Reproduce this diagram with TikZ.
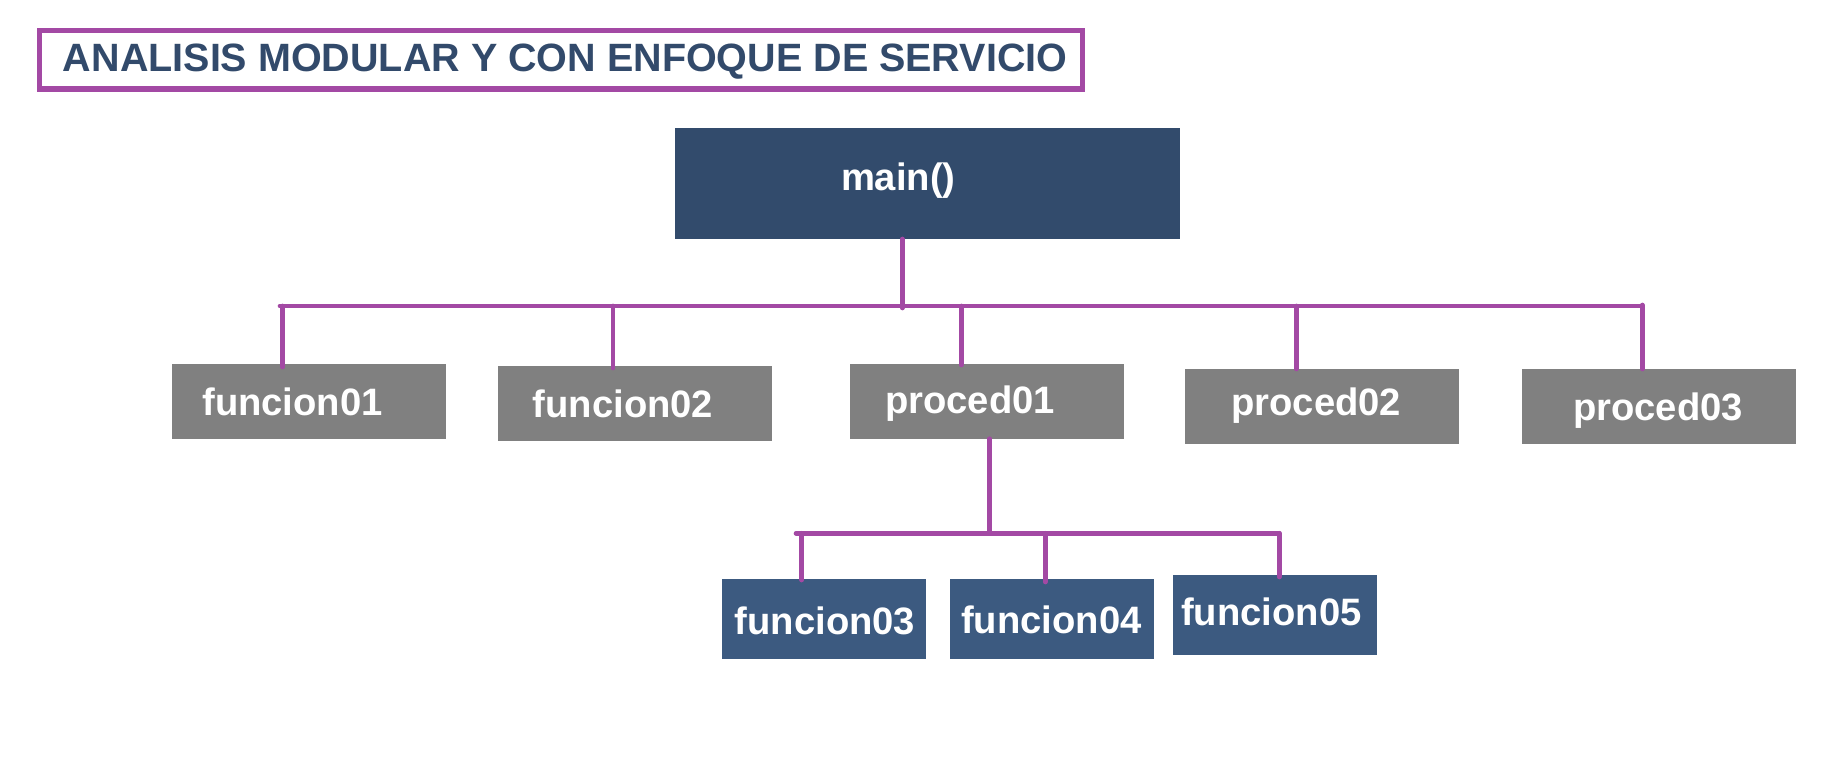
\documentclass[tikz,border=0pt]{standalone}
\usepackage{fontspec}
\setmainfont{Liberation Sans}
\usetikzlibrary{fit,calc}
\definecolor{linkpurple}{RGB}{163,73,164}
\definecolor{mainblue}{RGB}{50,75,108}
\definecolor{subblue}{RGB}{60,90,128}
\definecolor{boxgray}{RGB}{128,128,128}
\definecolor{titleblue}{RGB}{50,74,107}
\begin{document}
\begin{tikzpicture}[x=0.5pt,y=-0.5pt,
  box/.style={inner sep=0pt, outer sep=0pt, draw=none},
  mainbox/.style={box, fill=mainblue},
  graybox/.style={box, fill=boxgray},
  bluebox/.style={box, fill=subblue},
  lbl/.style={anchor=base, inner sep=0pt, outer sep=0pt, text=white, font=\fontsize{19.1}{22}\selectfont\bfseries},
  titlelbl/.style={anchor=base, inner sep=0pt, outer sep=0pt, text=titleblue, font=\fontsize{19.75}{23}\selectfont\bfseries},
  link/.style={draw=linkpurple, line width=2.35pt, line cap=round, line join=miter},
]
\useasboundingbox (0,0) rectangle (1831,759);
% title
\node[box, draw=linkpurple, line width=2.65pt, fit={(39.3,30.7) (1082.3,89)}] (titlebox) {};
\node[titlelbl] (title) at (565.2,71.7) {ANALISIS MODULAR Y CON ENFOQUE DE SERVICIO};
% main
\node[mainbox, fit={(675,127.7) (1180,239)}] (main) {};
\node[lbl] (maint) at (898.3,191) {main()};
% first level
\node[graybox, fit={(172,364) (446,438.7)}] (f1) {};
\node[graybox, fit={(498,366) (772,440.7)}] (f2) {};
\node[graybox, fit={(850,364) (1123.7,438.7)}] (p1) {};
\node[graybox, fit={(1185,369) (1458.7,443.7)}] (p2) {};
\node[graybox, fit={(1522,369) (1796,443.7)}] (p3) {};
\node[lbl] (f1t) at (292.5,415) {funcion01};
\node[lbl] (f2t) at (623,417.3) {funcion02};
\node[lbl] (p1t) at (970,413.3) {proced01};
\node[lbl] (p2t) at (1316.3,415.7) {proced02};
\node[lbl] (p3t) at (1658,420) {proced03};
% second level
\node[bluebox, fit={(722,579) (926,658.7)}] (f3) {};
\node[bluebox, fit={(950,579) (1154,658.7)}] (f4) {};
\node[bluebox, fit={(1172.7,575) (1377,654.7)}] (f5) {};
\node[lbl] (f3t) at (825,634) {funcion03};
\node[lbl] (f4t) at (1051.3,633.3) {funcion04};
\node[lbl] (f5t) at (1271.3,625) {funcion05};
% connectors level 1
\coordinate (busL) at (280,306);
\coordinate (stem) at (902.3,306);
\coordinate (s1) at (282.7,306);
\coordinate (s2) at (613,306);
\coordinate (s3) at (961.3,306);
\coordinate (s4) at (1296.3,306);
\coordinate (s5) at (1642.3,306);
\draw[link] (stem |- main.south) -- ($(stem)+(0,2)$);
\draw[link] (busL) -- (s5);
\draw[link] (s1) -- ($(s1 |- f1.north)+(0,3)$);
\draw[link] (s2) -- ($(s2 |- f2.north)+(0,2)$);
\draw[link] (s3) -- ($(s3 |- p1.north)+(0,1)$);
\draw[link] (s4) -- ($(s4 |- p2.north)+(0,0)$);
\draw[link] ($(s5)+(0,-1)$) -- ($(s5 |- p3.north)+(0,0)$);
% connectors level 2
\coordinate (sub) at (989.7,533.3);
\coordinate (busL2) at (796,533.3);
\coordinate (t1) at (801.7,533.3);
\coordinate (t2) at (1045.3,533.3);
\coordinate (t3) at (1279.3,533.3);
\draw[link] (sub |- p1.south) -- (sub);
\draw[link] (busL2) -- (t3);
\draw[link] (t1) -- ($(t1 |- f3.north)+(0,1)$);
\draw[link] (t2) -- ($(t2 |- f4.north)+(0,3)$);
\draw[link] (t3) -- ($(t3 |- f5.north)+(0,2)$);
\end{tikzpicture}
\end{document}
